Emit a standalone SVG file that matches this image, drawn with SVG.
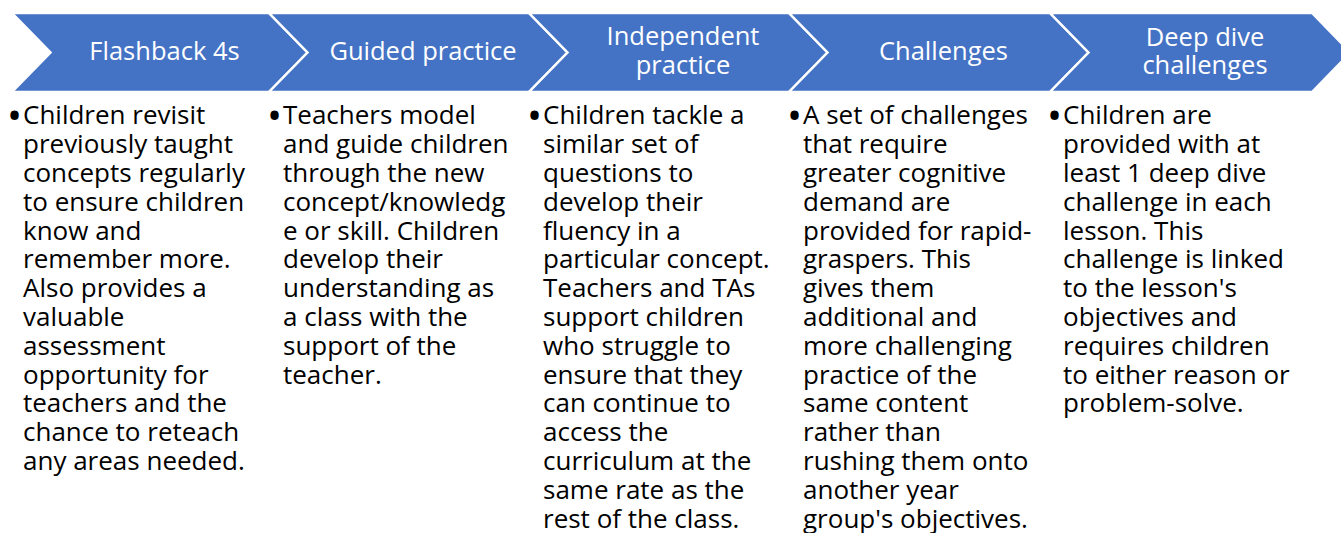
<svg xmlns="http://www.w3.org/2000/svg" width="1341" height="533" viewBox="0 0 1341 533">
<style>
.chev{fill:#4472C4;stroke:#FFFFFF;stroke-width:2.5;stroke-linejoin:miter}
.title{font-family:"Open Sans","Noto Sans",sans-serif;font-size:25.5px;fill:#FFFFFF;text-anchor:middle}
.body{font-family:"Open Sans","Noto Sans",sans-serif;font-size:26px;fill:#000000}
.bul{font-family:"Open Sans","Noto Sans",sans-serif;font-size:40px;fill:#000000}
</style>
<rect width="1341" height="533" fill="#FFFFFF"/>
<g id="step1">
<polygon class="chev" points="12,13 269,13 307.5,52.5 269,92 12,92 50.5,52.5"/>
<text class="title" x="164.5" y="60">Flashback 4s</text>
</g>
<g id="step2">
<polygon class="chev" points="269,13 529,13 567.5,52.5 529,92 269,92 307.5,52.5"/>
<text class="title" x="423" y="60">Guided practice</text>
</g>
<g id="step3">
<polygon class="chev" points="529,13 789,13 827.5,52.5 789,92 529,92 567.5,52.5"/>
<text class="title" x="683" y="45">Independent</text>
<text class="title" x="683" y="73.5">practice</text>
</g>
<g id="step4">
<polygon class="chev" points="789,13 1050,13 1088.5,52.5 1050,92 789,92 827.5,52.5"/>
<text class="title" x="943.5" y="60">Challenges</text>
</g>
<g id="step5">
<polygon class="chev" points="1050,13 1312,13 1350.5,52.5 1312,92 1050,92 1088.5,52.5"/>
<text class="title" x="1205" y="46">Deep dive</text>
<text class="title" x="1205" y="74">challenges</text>
</g>
<g id="connectors"></g>
<g id="text1" class="body">
<text class="bul" x="7" y="129.5">•</text>
<text x="23" y="124.3">Children revisit</text>
<text x="23" y="153.1">previously taught</text>
<text x="23" y="181.9">concepts regularly</text>
<text x="23" y="210.7">to ensure children</text>
<text x="23" y="239.5">know and</text>
<text x="23" y="268.3">remember more.</text>
<text x="23" y="297.1">Also provides a</text>
<text x="23" y="325.9">valuable</text>
<text x="23" y="354.7">assessment</text>
<text x="23" y="383.5">opportunity for</text>
<text x="23" y="412.3">teachers and the</text>
<text x="23" y="441.1">chance to reteach</text>
<text x="23" y="469.9">any areas needed.</text>
</g>
<g id="text2" class="body">
<text class="bul" x="267" y="129.5">•</text>
<text x="283" y="124.3">Teachers model</text>
<text x="283" y="153.1">and guide children</text>
<text x="283" y="181.9">through the new</text>
<text x="283" y="210.7">concept/knowledg</text>
<text x="283" y="239.5">e or skill. Children</text>
<text x="283" y="268.3">develop their</text>
<text x="283" y="297.1">understanding as</text>
<text x="283" y="325.9">a class with the</text>
<text x="283" y="354.7">support of the</text>
<text x="283" y="383.5">teacher.</text>
</g>
<g id="text3" class="body">
<text class="bul" x="527" y="129.5">•</text>
<text x="543" y="124.3">Children tackle a</text>
<text x="543" y="153.1">similar set of</text>
<text x="543" y="181.9">questions to</text>
<text x="543" y="210.7">develop their</text>
<text x="543" y="239.5">fluency in a</text>
<text x="543" y="268.3">particular concept.</text>
<text x="543" y="297.1">Teachers and TAs</text>
<text x="543" y="325.9">support children</text>
<text x="543" y="354.7">who struggle to</text>
<text x="543" y="383.5">ensure that they</text>
<text x="543" y="412.3">can continue to</text>
<text x="543" y="441.1">access the</text>
<text x="543" y="469.9">curriculum at the</text>
<text x="543" y="498.7">same rate as the</text>
<text x="543" y="527.5">rest of the class.</text>
</g>
<g id="text4" class="body">
<text class="bul" x="787" y="129.5">•</text>
<text x="803" y="124.3">A set of challenges</text>
<text x="803" y="153.1">that require</text>
<text x="803" y="181.9">greater cognitive</text>
<text x="803" y="210.7">demand are</text>
<text x="803" y="239.5">provided for rapid-</text>
<text x="803" y="268.3">graspers. This</text>
<text x="803" y="297.1">gives them</text>
<text x="803" y="325.9">additional and</text>
<text x="803" y="354.7">more challenging</text>
<text x="803" y="383.5">practice of the</text>
<text x="803" y="412.3">same content</text>
<text x="803" y="441.1">rather than</text>
<text x="803" y="469.9">rushing them onto</text>
<text x="803" y="498.7">another year</text>
<text x="803" y="527.5">group's objectives.</text>
</g>
<g id="text5" class="body">
<text class="bul" x="1047" y="129.5">•</text>
<text x="1063" y="124.3">Children are</text>
<text x="1063" y="153.1">provided with at</text>
<text x="1063" y="181.9">least 1 deep dive</text>
<text x="1063" y="210.7">challenge in each</text>
<text x="1063" y="239.5">lesson. This</text>
<text x="1063" y="268.3">challenge is linked</text>
<text x="1063" y="297.1">to the lesson's</text>
<text x="1063" y="325.9">objectives and</text>
<text x="1063" y="354.7">requires children</text>
<text x="1063" y="383.5">to either reason or</text>
<text x="1063" y="412.3">problem-solve.</text>
</g>
</svg>
